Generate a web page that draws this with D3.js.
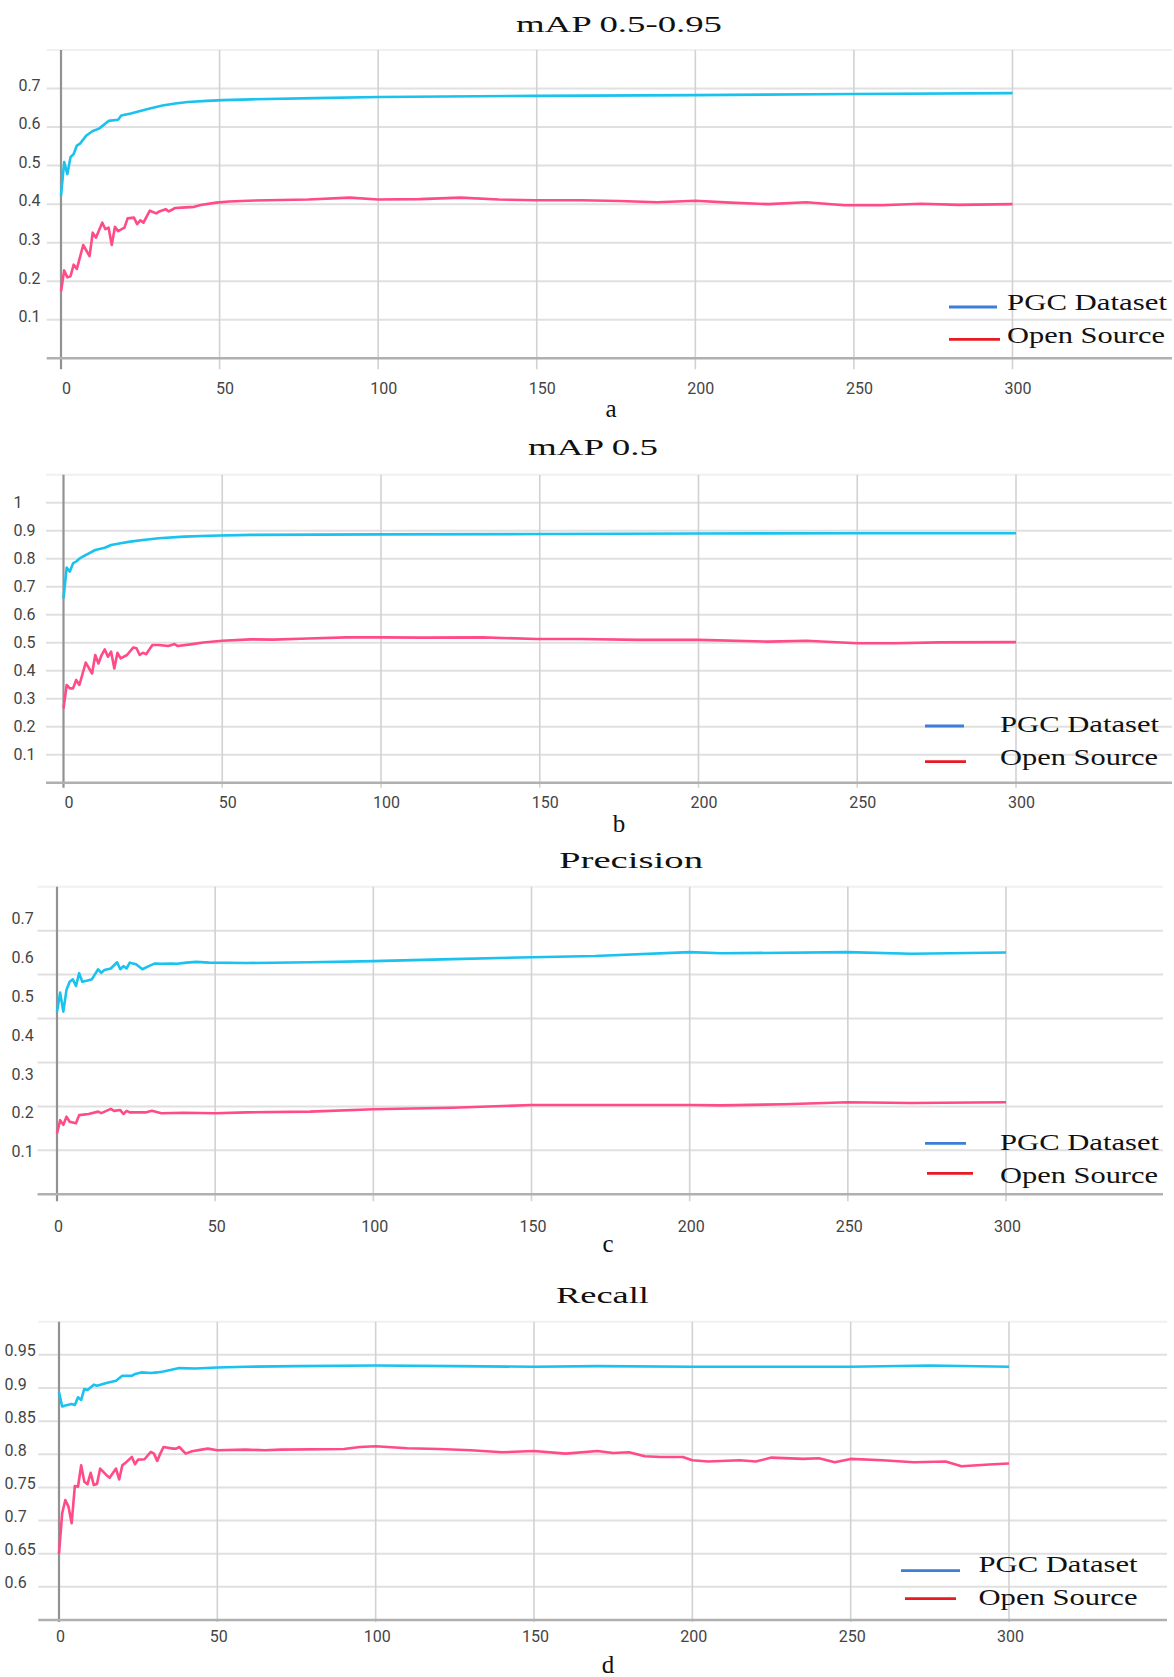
<!DOCTYPE html>
<html>
<head>
<meta charset="utf-8">
<script src="https://cdn.jsdelivr.net/npm/d3@7"></script>
<style>
  html, body { margin: 0; padding: 0; background: #fff; }
  svg { display: block; }
  .tick text { font-family: Roboto, "Liberation Sans", Arial, sans-serif; font-size: 16px; fill: #444; }
  .serif { font-family: "Liberation Serif", "DejaVu Serif", serif; fill: #111; }
</style>
</head>
<body>
<svg id="chart" width="1174" height="1677"></svg>
<script>
(function() {
    'use strict';

    // ---- data (epoch, value) ----
    var titles = ['mAP 0.5-0.95', 'mAP 0.5', 'Precision', 'Recall'];
    var letters = ['a', 'b', 'c', 'd'];
    var seriesNames = ['PGC Dataset', 'Open Source'];
    var epochTicks = [0, 50, 100, 150, 200, 250, 300];

    var mapWideTicks = [0.1, 0.2, 0.3, 0.4, 0.5, 0.6, 0.7];
    var map50Ticks = [0.1, 0.2, 0.3, 0.4, 0.5, 0.6, 0.7, 0.8, 0.9, 1];
    var precisionTicks = [0.1, 0.2, 0.3, 0.4, 0.5, 0.6, 0.7];
    var recallTicks = [0.6, 0.65, 0.7, 0.75, 0.8, 0.85, 0.9, 0.95];

    var mapWidePGC = [[0,0.422],[1,0.509],[2,0.478],[3,0.522],[4,0.53],[5,0.552],[6,0.557],[8,0.578],
        [10,0.59],[12,0.596],[14,0.609],[15,0.616],[18,0.619],[19,0.63],[22,0.635],[25,0.642],[28,0.648],
        [32,0.656],[36,0.661],[40,0.665],[46,0.668],[51,0.67],[60,0.672],[80,0.675],[100,0.678],
        [150,0.681],[200,0.683],[250,0.686],[300,0.688]];
    var mapWideOpen = [[0,0.174],[1,0.228],[2,0.21],[3,0.213],[4,0.243],[5,0.232],[7,0.294],[9,0.265],
        [10,0.326],[11,0.313],[13,0.352],[14,0.335],[15,0.339],[16,0.294],[17,0.341],[18,0.33],[20,0.339],
        [21,0.363],[23,0.365],[24,0.348],[25,0.358],[26,0.352],[28,0.383],[30,0.376],[31,0.381],[33,0.387],
        [34,0.381],[36,0.39],[38,0.391],[42,0.393],[44,0.398],[49,0.404],[53,0.407],[59,0.409],[65,0.41],
        [78,0.412],[91,0.417],[100,0.412],[113,0.413],[126,0.417],[138,0.412],[150,0.41],[164,0.41],
        [176,0.408],[188,0.405],[200,0.409],[211,0.404],[223,0.4],[235,0.405],[247,0.397],[259,0.397],
        [271,0.401],[283,0.398],[300,0.4]];

    var map50PGC = [[0,0.658],[1,0.768],[2,0.754],[3,0.783],[4,0.79],[5,0.8],[6,0.807],[8,0.819],
        [10,0.831],[13,0.839],[15,0.849],[18,0.855],[21,0.861],[25,0.867],[30,0.873],[38,0.879],
        [46,0.882],[59,0.885],[100,0.887],[150,0.888],[200,0.89],[250,0.891],[300,0.891]];
    var map50Open = [[0,0.265],[1,0.349],[2,0.337],[3,0.337],[4,0.367],[5,0.349],[7,0.429],[9,0.39],
        [10,0.456],[11,0.426],[12,0.456],[13,0.476],[14,0.45],[15,0.468],[16,0.408],[17,0.464],[18,0.444],
        [20,0.456],[22,0.483],[23,0.48],[24,0.456],[25,0.464],[26,0.459],[28,0.492],[30,0.492],[33,0.488],
        [35,0.495],[36,0.488],[40,0.494],[44,0.501],[50,0.507],[59,0.512],[66,0.511],[77,0.515],[89,0.519],
        [100,0.519],[113,0.518],[132,0.519],[149,0.513],[163,0.513],[181,0.51],[200,0.51],[222,0.504],
        [234,0.507],[250,0.498],[262,0.498],[276,0.501],[300,0.502]];

    var precisionPGC = [[0,0.46],[1,0.509],[2,0.46],[3,0.516],[4,0.537],[5,0.543],[6,0.526],[7,0.559],
        [8,0.537],[10,0.541],[11,0.543],[13,0.569],[14,0.56],[15,0.567],[17,0.571],[19,0.587],[20,0.569],
        [21,0.577],[22,0.571],[23,0.586],[25,0.582],[27,0.569],[29,0.577],[31,0.584],[33,0.583],[36,0.584],
        [38,0.583],[41,0.586],[44,0.588],[48,0.586],[60,0.585],[80,0.587],[100,0.59],[125,0.595],
        [150,0.6],[170,0.603],[200,0.613],[210,0.61],[250,0.613],[270,0.609],[300,0.612]];
    var precisionOpen = [[0,0.147],[1,0.181],[2,0.169],[3,0.19],[4,0.177],[6,0.173],[7,0.194],[10,0.197],
        [13,0.203],[14,0.199],[17,0.21],[18,0.205],[20,0.207],[21,0.197],[22,0.205],[23,0.201],[28,0.201],
        [30,0.205],[33,0.199],[40,0.2],[50,0.199],[60,0.201],[80,0.203],[100,0.209],[125,0.213],
        [150,0.22],[170,0.22],[200,0.22],[210,0.219],[230,0.222],[250,0.227],[270,0.225],[300,0.227]];

    var recallPGC = [[0,0.8935],[1,0.872],[2,0.8735],[4,0.876],[5,0.8745],[6,0.886],[7,0.882],[8,0.8985],
        [9,0.897],[11,0.905],[12,0.9035],[15,0.9075],[18,0.911],[20,0.9185],[23,0.9185],[24,0.921],
        [26,0.9235],[29,0.9225],[31,0.9235],[33,0.925],[38,0.93],[43,0.9295],[50,0.931],[59,0.932],
        [75,0.933],[100,0.934],[125,0.933],[150,0.932],[170,0.933],[200,0.932],[250,0.932],[275,0.934],
        [300,0.932]];
    var recallOpen = [[0,0.65],[1,0.711],[2,0.731],[3,0.721],[4,0.696],[5,0.752],[6,0.751],[7,0.7835],
        [8,0.7585],[9,0.755],[10,0.772],[11,0.7535],[12,0.755],[13,0.7785],[15,0.7685],[16,0.7645],
        [18,0.7785],[19,0.762],[20,0.7835],[21,0.787],[23,0.796],[24,0.785],[25,0.792],[27,0.7925],
        [29,0.8035],[30,0.801],[31,0.79],[32,0.801],[33,0.811],[36,0.8085],[37,0.8085],[38,0.811],
        [40,0.801],[42,0.8045],[45,0.807],[47,0.8085],[50,0.806],[59,0.807],[65,0.806],[70,0.807],
        [90,0.808],[95,0.811],[100,0.812],[110,0.809],[120,0.808],[130,0.806],[140,0.803],[150,0.805],
        [160,0.801],[170,0.805],[175,0.802],[180,0.803],[185,0.797],[190,0.796],[197,0.796],[200,0.791],
        [205,0.789],[215,0.791],[220,0.789],[225,0.795],[235,0.793],[240,0.794],[245,0.788],[250,0.793],
        [260,0.791],[270,0.788],[280,0.789],[285,0.782],[295,0.785],[300,0.786]];

    var yDomains = [[0, 0.8], [0, 1.1], [0, 0.7], [0.55, 1.0]];

    // ---- layout of the four stacked panels (pixels) ----
    var layouts = [
        { x0: 61, x1: 1012.5, gridL: 46.7, gridR: 1172, top: 50, bottom: 358.3, rows: 8,
          yRange: [358.3, 50], tickExt: 11, yLabX: 18.4, yLabDy: -3.3, xLabY: 388, xLabDx: 5,
          titleX: 619, titleY: 32, titleW: 206, letterX: 611, letterY: 417,
          leg: { blue: [949, 997, 307], red: [949, 1000, 339.3], tx: 1007, ty: [310, 343], tw: [160, 158] } },
        { x0: 63.5, x1: 1016, gridL: 46, gridR: 1172, top: 474.7, bottom: 782.7, rows: 11,
          yRange: [782.7, 474.7], tickExt: 5, yLabX: 13.4, yLabDy: 0, xLabY: 802.7, xLabDx: 5,
          titleX: 593, titleY: 455, titleW: 130, letterX: 619, letterY: 832,
          leg: { blue: [925, 964, 726], red: [925, 966, 761.7], tx: 1000, ty: [731.5, 765], tw: [159, 158] } },
        { x0: 57, x1: 1006, gridL: 37.5, gridR: 1163, top: 886.7, bottom: 1194.3, rows: 7,
          yRange: [1190.6, 918.3], tickExt: 7, yLabX: 11.5, yLabDy: 0, xLabY: 1226.7, xLabDx: 1,
          titleX: 631, titleY: 868, titleW: 144, letterX: 608, letterY: 1252,
          leg: { blue: [925, 966, 1143.3], red: [927, 973, 1173.3], tx: 1000, ty: [1150, 1183], tw: [159, 158] } },
        { x0: 59, x1: 1009, gridL: 38.3, gridR: 1167, top: 1321.7, bottom: 1620, rows: 9,
          yRange: [1620, 1321.7], tickExt: 2, yLabX: 4.6, yLabDy: -4, xLabY: 1636.7, xLabDx: 1,
          titleX: 602.5, titleY: 1303, titleW: 93, letterX: 608, letterY: 1673,
          leg: { blue: [901, 960, 1570.7], red: [905, 956, 1598.7], tx: 978.5, ty: [1571.7, 1605], tw: [159, 159] } }
    ];

    var panels = [
        { pgc: mapWidePGC, open: mapWideOpen, ticks: mapWideTicks },
        { pgc: map50PGC, open: map50Open, ticks: map50Ticks },
        { pgc: precisionPGC, open: precisionOpen, ticks: precisionTicks },
        { pgc: recallPGC, open: recallOpen, ticks: recallTicks }
    ];

    var lineColors = ['#19c2ef', '#ff4b86'];
    var legendColors = ['#3d7fd6', '#ea1a22'];

    var svg = d3.select('#chart');

    panels.forEach(function(p, i) {
        var L = layouts[i];
        var g = svg.append('g');

        var x = d3.scaleLinear().domain([0, 300]).range([L.x0, L.x1]);
        var y = d3.scaleLinear().domain(yDomains[i]).range(L.yRange);
        var gridY = d3.scaleLinear().domain([0, L.rows]).range([L.bottom, L.top]);

        // horizontal grid
        g.append('g').selectAll('line')
            .data(d3.range(1, L.rows + 1))
            .enter().append('line')
            .attr('x1', L.gridL).attr('x2', L.gridR)
            .attr('y1', function(d) { return gridY(d); })
            .attr('y2', function(d) { return gridY(d); })
            .attr('stroke', function(d) { return d === L.rows ? '#f0f0f0' : '#e0e0e0'; })
            .attr('stroke-width', 2);

        // vertical grid
        g.append('g').selectAll('line')
            .data(epochTicks)
            .enter().append('line')
            .attr('x1', function(d) { return x(d); })
            .attr('x2', function(d) { return x(d); })
            .attr('y1', L.top).attr('y2', L.bottom + L.tickExt)
            .attr('stroke', function(d) { return d === 0 ? '#929292' : '#d2d2d2'; })
            .attr('stroke-width', function(d) { return d === 0 ? 2.2 : 1.6; });

        // bottom axis line
        g.append('line')
            .attr('x1', L.gridL).attr('x2', L.gridR)
            .attr('y1', L.bottom).attr('y2', L.bottom)
            .attr('stroke', '#b0b0b0').attr('stroke-width', 2.4);

        // y tick labels (left aligned, TensorBoard style)
        var yAx = g.append('g')
            .attr('transform', 'translate(' + L.yLabX + ',' + L.yLabDy + ')')
            .call(d3.axisLeft(y).tickValues(p.ticks).tickFormat(d3.format('~g')).tickSize(0));
        yAx.select('.domain').remove();
        yAx.selectAll('text').attr('x', 0).attr('text-anchor', 'start');

        // x tick labels
        var xAx = g.append('g')
            .attr('transform', 'translate(' + L.xLabDx + ',' + L.xLabY + ')')
            .call(d3.axisBottom(x).tickValues(epochTicks).tickSize(0).tickPadding(0));
        xAx.select('.domain').remove();
        xAx.selectAll('text').attr('y', 0).attr('dy', '0.35em');

        // series
        var line = d3.line()
            .x(function(d) { return x(d[0]); })
            .y(function(d) { return y(d[1]); });

        [p.open, p.pgc].forEach(function(s, k) {
            g.append('path')
                .datum(s)
                .attr('d', line)
                .attr('fill', 'none')
                .attr('stroke', lineColors[1 - k])
                .attr('stroke-width', 2.6)
                .attr('stroke-linejoin', 'round');
        });

        // title and panel letter
        g.append('text').attr('class', 'serif')
            .attr('x', L.titleX - L.titleW / 2).attr('y', L.titleY)
            .attr('font-size', 24)
            .attr('textLength', L.titleW).attr('lengthAdjust', 'spacingAndGlyphs')
            .text(titles[i]);
        g.append('text').attr('class', 'serif')
            .attr('x', L.letterX).attr('y', L.letterY)
            .attr('text-anchor', 'middle').attr('font-size', 25)
            .text(letters[i]);

        // legend
        var legLines = [L.leg.blue, L.leg.red];
        seriesNames.forEach(function(name, k) {
            g.append('line')
                .attr('x1', legLines[k][0]).attr('x2', legLines[k][1])
                .attr('y1', legLines[k][2]).attr('y2', legLines[k][2])
                .attr('stroke', legendColors[k]).attr('stroke-width', 2.8);
            g.append('text').attr('class', 'serif')
                .attr('x', L.leg.tx).attr('y', L.leg.ty[k])
                .attr('font-size', 23)
                .attr('textLength', L.leg.tw[k]).attr('lengthAdjust', 'spacingAndGlyphs')
                .text(name);
        });
    });

})();
</script>
</body>
</html>
